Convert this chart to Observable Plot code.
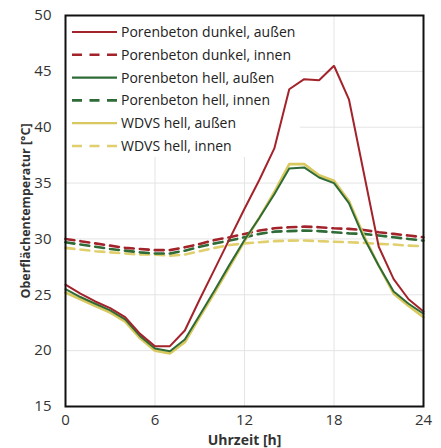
<!DOCTYPE html>
<html><head><meta charset="utf-8">
<script src="https://cdn.jsdelivr.net/npm/d3@7"></script>
<script src="https://cdn.jsdelivr.net/npm/@observablehq/plot@0.6"></script>
<style>
body{margin:0;background:#fff;}
#chart{width:441px;height:448px;}
</style></head><body><div id="chart"></div>
<script>
const hours = [0,1,2,3,4,5,6,7,8,9,10,11,12,13,14,15,16,17,18,19,20,21,22,23,24];
const seriesNames = ["Porenbeton dunkel, außen","Porenbeton dunkel, innen","Porenbeton hell, außen","Porenbeton hell, innen","WDVS hell, außen","WDVS hell, innen"];
const dunkelAussen = [25.9,25.1,24.4,23.8,23.0,21.5,20.4,20.4,21.8,24.6,27.3,30.0,32.7,35.3,38.1,43.4,44.3,44.2,45.5,42.5,35.9,29.3,26.4,24.6,23.5];
const dunkelInnen  = [30.0,29.8,29.6,29.4,29.2,29.1,29.0,29.0,29.25,29.55,29.9,30.15,30.45,30.75,30.95,31.05,31.1,31.05,30.95,30.9,30.8,30.6,30.45,30.3,30.15];
const hellAussen   = [25.5,24.8,24.2,23.6,22.8,21.3,20.2,19.95,21.0,23.2,25.4,27.7,29.9,31.9,34.0,36.3,36.4,35.5,35.0,33.2,30.1,27.6,25.3,24.2,23.3];
const hellInnen    = [29.7,29.5,29.3,29.1,28.95,28.8,28.7,28.7,28.95,29.3,29.6,29.85,30.15,30.45,30.65,30.7,30.75,30.7,30.6,30.5,30.45,30.3,30.15,30.0,29.85];
const wdvsAussen   = [25.2,24.6,24.0,23.4,22.6,21.1,20.0,19.75,20.75,23.0,25.2,27.5,29.8,31.9,34.2,36.7,36.7,35.7,35.2,33.4,30.3,27.6,25.1,24.0,23.0];
const wdvsInnen    = [29.2,29.05,28.9,28.8,28.7,28.6,28.6,28.5,28.6,28.9,29.2,29.45,29.6,29.7,29.8,29.85,29.86,29.8,29.75,29.7,29.65,29.56,29.5,29.4,29.35];
const yTicks = [15,20,25,30,35,40,45,50];
const xTicks = [0,6,12,18,24];
const yGrid = [20,25,30,35,40,45];
const xGrid = [6,12,18];

const colors = ["#a3232b","#a3232b","#2f6b36","#2f6b36","#d9c85e","#e0cf6c"];
const dashed = [false,true,false,true,false,true];
const values = [dunkelAussen,dunkelInnen,hellAussen,hellInnen,wdvsAussen,wdvsInnen];

const tables = values.map((arr,i)=>hours.map((h,j)=>({h, v: arr[j], s: seriesNames[i]})));
const drawOrder = [5,3,1,4,2,0];

const font = "'Open Sans', 'DejaVu Sans', sans-serif";

const plot = Plot.plot({
  width: 441, height: 448,
  marginLeft: 65, marginRight: 18, marginTop: 15, marginBottom: 42,
  x: {domain: [0,24]},
  y: {domain: [15,50]},
  style: {fontFamily: font, fontSize: "15px", color: "#333", background: "#fff"},
  marks: [
    Plot.gridY(yGrid, {stroke: "#e4e4e4", strokeOpacity: 1, strokeWidth: 1}),
    Plot.gridX(xGrid, {stroke: "#e4e4e4", strokeOpacity: 1, strokeWidth: 1}),
    Plot.axisY(yTicks, {tickSize: 0, tickPadding: 14, label: null, fill: "#333"}),
    Plot.axisX(xTicks, {tickSize: 0, tickPadding: 8, label: null, fill: "#333"}),
    Plot.text(["Oberflächentemperatur [°C]"], {frameAnchor: "left", textAnchor: "middle", rotate: -90, dx: -40, fontWeight: "bold", fontSize: 12.5, fill: "#333"}),
    Plot.text(["Uhrzeit [h]"], {frameAnchor: "bottom", dy: 38, fontWeight: "bold", fontSize: 14, fill: "#333"}),
    ...drawOrder.map(i => Plot.lineY(tables[i], {
      x: "h", y: "v", stroke: colors[i],
      strokeWidth: i===4 ? 2.6 : (dashed[i] ? 2.6 : 2),
      strokeDasharray: dashed[i] ? "9,6" : null,
      strokeLinejoin: "miter"
    })),
    Plot.frame({stroke: "#111", strokeWidth: 2})
  ]
});
document.getElementById("chart").appendChild(plot);

// legend box (white background under lines) and legend entries
const svg = d3.select(plot);
const firstLine = plot.querySelector("g[aria-label='line']");
const bg = document.createElementNS("http://www.w3.org/2000/svg","rect");
bg.setAttribute("x", 66); bg.setAttribute("y", 16);
bg.setAttribute("width", 234); bg.setAttribute("height", 141);
bg.setAttribute("fill", "#fff");
plot.insertBefore(bg, firstLine);

const lg = svg.append("g").attr("font-family", font).attr("font-size", 14).attr("fill", "#222").attr("text-anchor", "start");
seriesNames.forEach((name,i)=>{
  const y = 32 + i*22.8;
  lg.append("line").attr("x1",72).attr("x2",117).attr("y1",y).attr("y2",y)
    .attr("stroke", colors[i]).attr("stroke-width", dashed[i] ? 2.6 : 2.2)
    .attr("stroke-dasharray", dashed[i] ? "10,7.5" : null);
  lg.append("text").attr("x",121).attr("y",y).attr("dy","0.35em").attr("text-anchor","start").text(name);
});
</script>
</body></html>
